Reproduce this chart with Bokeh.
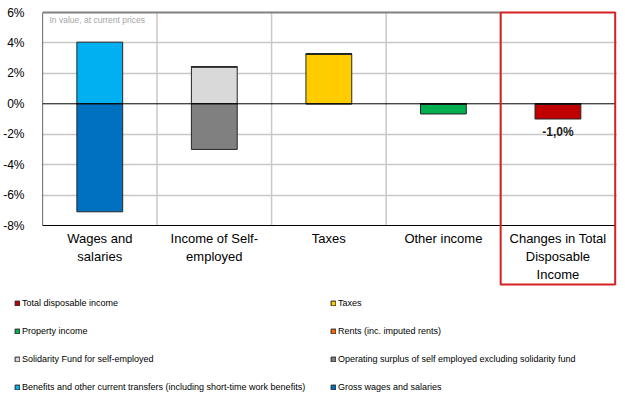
from bokeh.plotting import figure
from bokeh.models import (Range1d, FixedTicker, PrintfTickFormatter, Legend, LegendItem,
                          ColumnDataSource)
from bokeh.core.properties import value
from bokeh.embed import file_html
from bokeh.resources import INLINE

# ---- data ----
categories = ["Wages and\nsalaries", "Income of Self-\nemployed", "Taxes", "Other income",
              "Changes in Total\nDisposable\nIncome"]
series_names = ["Total disposable income", "Taxes", "Property income", "Rents (inc. imputed rents)",
                "Solidarity Fund for self-employed",
                "Operating surplus of self employed excluding solidarity fund",
                "Benefits and other current transfers (including short-time work benefits)",
                "Gross wages and salaries"]
total_disposable_income = [0, 0, 0, 0, -1.0]
taxes = [0, 0, 3.27, 0, 0]
property_income = [0, 0, 0, -0.67, 0]
rents = [0, 0, 0, 0, 0]
solidarity_fund = [0, 2.43, 0, 0, 0]
operating_surplus = [0, -3.0, 0, 0, 0]
benefits = [4.05, 0, 0, 0, 0]
gross_wages = [-7.1, 0, 0, 0, 0]
y_ticks = [-8, -6, -4, -2, 0, 2, 4, 6]
note_text = "In value, at current prices"

series_values = [total_disposable_income, taxes, property_income, rents, solidarity_fund,
                 operating_surplus, benefits, gross_wages]
colors = ["#C00000", "#FFCC00", "#00B050", "#FF6600", "#D9D9D9", "#808080", "#00B0F0", "#0070C0"]

FONT = "Liberation Sans"
n = len(categories)
xc = [i + 0.5 for i in range(n)]
ymin, ymax = min(y_ticks), max(y_ticks)
px_per_unit = 213.0 / (ymax - ymin)
frame_h = 278
y_top = ymax + 2 / px_per_unit
y_bot = y_top - frame_h / px_per_unit

p = figure(frame_width=575, frame_height=frame_h,
           x_range=Range1d(0, 5.02), y_range=Range1d(y_bot, y_top),
           x_axis_location=None, output_backend="svg", toolbar_location=None,
           min_border_left=33, min_border_top=10, min_border_right=0, min_border_bottom=0)
p.outline_line_color = None
p.background_fill_color = "white"

# y axis
ax = p.yaxis[0]
ax.ticker = FixedTicker(ticks=y_ticks)
ax.formatter = PrintfTickFormatter(format="%d%%")
ax.axis_line_color = None
ax.major_tick_line_color = None
ax.minor_tick_line_color = None
ax.major_label_standoff = 12
ax.major_label_text_font = FONT
ax.major_label_text_font_size = "12px"
ax.major_label_text_color = "#000000"

p.xgrid.visible = False
p.ygrid.ticker = FixedTicker(ticks=[t for t in y_ticks if t not in (0, ymin, ymax)])
p.ygrid.grid_line_color = "#C8C8C8"
p.ygrid.grid_line_width = 1.5

# vertical separators
sep_x = list(range(1, n))
p.segment(x0=sep_x, x1=sep_x, y0=[ymin] * len(sep_x), y1=[ymax] * len(sep_x),
          line_color="#C8C8C8", line_width=1.5)

# legend panel figure (drawn underneath the chart); its ranges keep the bars out of view
lg_h = 110
lp = figure(width=608, height=lg_h, x_range=Range1d(0, 5.02), y_range=Range1d(50, 51),
            x_axis_location=None, y_axis_location=None, output_backend="svg",
            toolbar_location=None, min_border=0)
lp.outline_line_color = None
lp.xgrid.visible = False
lp.ygrid.visible = False

# bars (stacked: positives up, negatives down)
pos_base = [0.0] * n
neg_base = [0.0] * n
leg_renderers = []
for name, vals, col in zip(series_names, series_values, colors):
    bottoms, tops = [], []
    for i, v in enumerate(vals):
        if v >= 0:
            bottoms.append(pos_base[i]); tops.append(pos_base[i] + v); pos_base[i] += v
        else:
            tops.append(neg_base[i]); bottoms.append(neg_base[i] + v); neg_base[i] += v
    src = ColumnDataSource(dict(x=xc, top=tops, bottom=bottoms))
    p.vbar(x="x", top="top", bottom="bottom", width=0.4, source=src,
           fill_color=col, line_color="#262626", line_width=1)
    r = lp.vbar(x="x", top="top", bottom="bottom", width=0.4, source=src,
                fill_color=col, line_color="#262626", line_width=1)
    leg_renderers.append(r)

# axis lines
p.segment(x0=[0], x1=[n], y0=[0], y1=[0], line_color="#000000", line_width=1)
p.segment(x0=[0], x1=[n], y0=[ymin], y1=[ymin], line_color="#000000", line_width=1.2)
p.segment(x0=[0], x1=[0], y0=[ymin], y1=[ymax], line_color="#000000", line_width=1.2)
p.segment(x0=[0], x1=[n - 1], y0=[ymax], y1=[ymax], line_color="#808080", line_width=2)

# category labels
p.text(x=xc, y=[ymin] * n, text=categories, text_align="center", text_baseline="top",
       y_offset=5, text_font=value(FONT), text_font_size="13px", text_color="#000000",
       text_line_height=1.2)

# note
p.text(x=[0], y=[ymax], text=[note_text], x_offset=7, y_offset=7, text_baseline="middle",
       text_font=value(FONT), text_font_size="8.5px", text_color="#A6A6A6")

# data label for total
tot = total_disposable_income[-1]
p.text(x=[xc[-1]], y=[tot], text=[f"{tot:.1f}".replace(".", ",") + "%"], y_offset=13,
       text_align="center", text_baseline="middle", text_font=value(FONT),
       text_font_size="12px", text_font_style="bold", text_color="#1A1A1A")

# highlight box around last category
p.quad(left=[n - 1], right=[n], bottom=[ymin - 59 / px_per_unit], top=[ymax],
       fill_color=None, line_color="#D42020", line_width=2)

order = [0, 2, 4, 6, 1, 3, 5, 7]
items = [LegendItem(label=series_names[k], renderers=[leg_renderers[k]], index=0) for k in order]
leg = Legend(items=items, ncols=2, location=(14, 1), margin=0, padding=3,
             spacing=8, glyph_width=6, glyph_height=6, label_standoff=2,
             label_width=300, label_height=20,
             label_text_font=FONT, label_text_font_size="9px", label_text_color="#000000",
             border_line_color=None, background_fill_alpha=0)
lp.add_layout(leg, "center")

open("out.html", "w").write(file_html([p, lp], INLINE))
